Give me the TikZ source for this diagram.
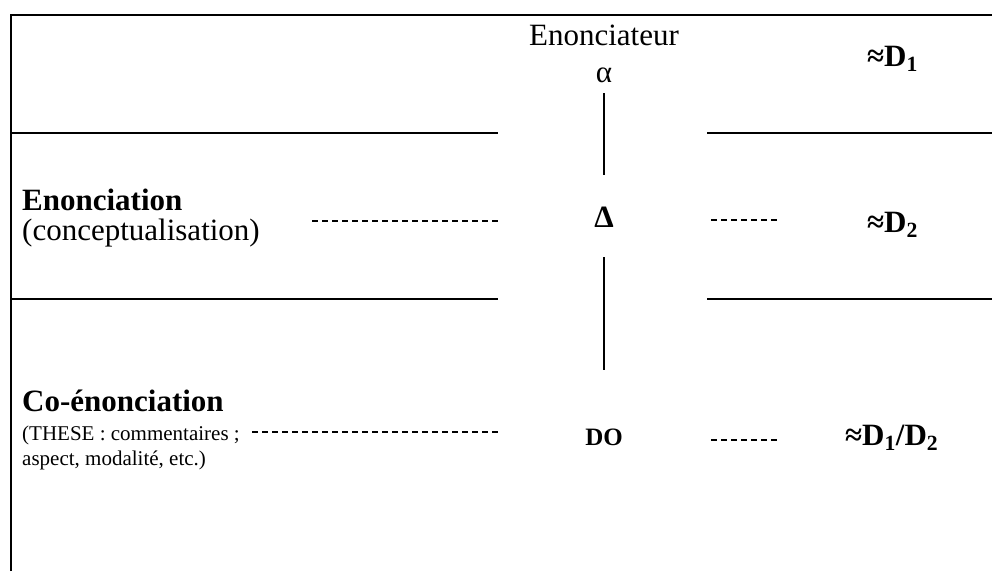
\documentclass[tikz,border=0pt]{standalone}
\usepackage{fontspec}
\setmainfont{Liberation Serif}
\begin{document}
\begin{tikzpicture}[x=1pt,y=-1pt,
  rule/.style={line width=2pt},
  dashrule/.style={line width=1.3pt, dash pattern=on 6pt off 4pt},
  lbl/.style={inner sep=0pt},
  big/.style={lbl,font=\fontsize{31}{36}\selectfont},
  bigb/.style={lbl,font=\fontsize{31}{36}\selectfont\bfseries},
  midb/.style={lbl,font=\fontsize{25}{30}\selectfont\bfseries},
  small/.style={lbl,font=\fontsize{21}{26}\selectfont}]
\useasboundingbox (0,0) rectangle (992,571);
% frame and row rules
\draw[rule] (11,571) -- (11,15) -- (992,15);
\draw[rule] (11,132.5) -- (498,132.5);
\draw[rule] (707,132.5) -- (992,132.5);
\draw[rule] (11,299) -- (498,299);
\draw[rule] (707,299) -- (992,299);
% column texts
\node[big,anchor=base] (enonciateur) at (604,45) {Enonciateur};
\node[big,anchor=base] (alpha) at (604,82) {α};
\node[bigb,anchor=base] (delta) at (604,227) {Δ};
\node[midb,anchor=base] (do) at (604,445) {DO};
\node[bigb,anchor=base west] (d1) at (867,66) {≈D\textsubscript{1}};
\node[bigb,anchor=base west] (d2) at (867,232) {≈D\textsubscript{2}};
\node[bigb,anchor=base west] (d12) at (845,445) {≈D\textsubscript{1}/D\textsubscript{2}};
% left texts
\node[bigb,anchor=base west] (enon) at (22,210) {Enonciation};
\node[big,anchor=base west] (concept) at (22,240) {(conceptualisation)};
\node[bigb,anchor=base west] (coenon) at (22,411) {Co-énonciation};
\node[small,anchor=base west] (these) at (22,440) {(THESE : commentaires ;};
\node[small,anchor=base west] (aspect) at (22,465) {aspect, modalité, etc.)};
% vertical connectors
\coordinate (v1a) at (604,93);
\coordinate (v1b) at (604,175);
\coordinate (v2a) at (604,257);
\coordinate (v2b) at (604,370);
\draw[rule] (v1a) -- (v1b);
\draw[rule] (v2a) -- (v2b);
% dashed connectors
\coordinate (e1) at (312,221);
\coordinate (e2) at (498,221);
\coordinate (e3) at (711,220);
\coordinate (e4) at (779,220);
\coordinate (c1) at (252,432);
\coordinate (c2) at (498,432);
\coordinate (c3) at (711,440);
\coordinate (c4) at (779,440);
\draw[dashrule] (e1) -- (e2);
\draw[dashrule] (e3) -- (e4);
\draw[dashrule] (c1) -- (c2);
\draw[dashrule] (c3) -- (c4);
\end{tikzpicture}
\end{document}
